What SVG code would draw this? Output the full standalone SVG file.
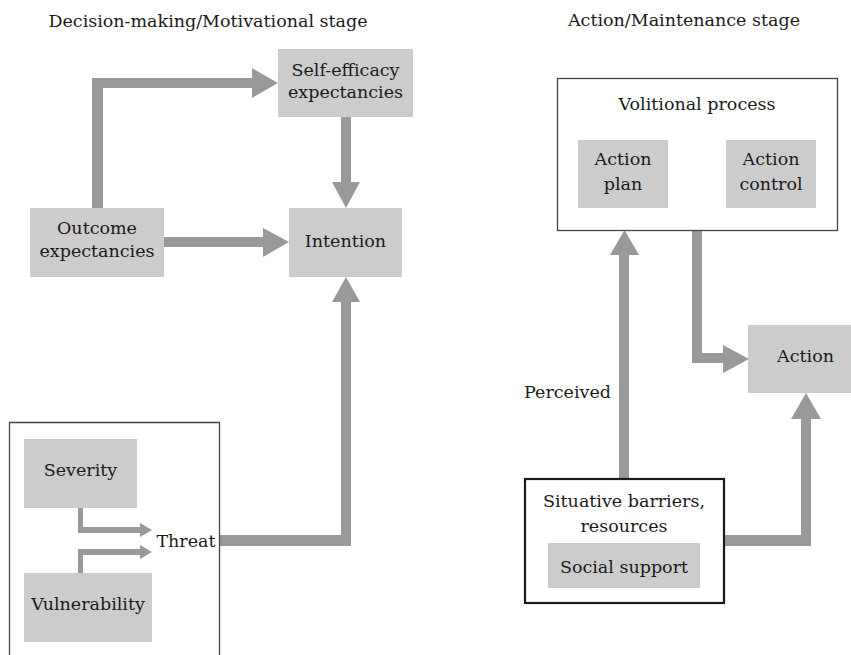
<svg xmlns="http://www.w3.org/2000/svg" width="851" height="655" viewBox="0 0 851 655">
<style>
text{font-family:"DejaVu Serif","Liberation Serif",serif;font-size:17.5px;fill:#1a1a1a;text-anchor:middle}
.box{fill:#cccccc}
.frame{fill:none;stroke:#444;stroke-width:1.3}
.frame2{fill:none;stroke:#1a1a1a;stroke-width:2.2}
.arr{fill:#999999}
</style>
<rect width="851" height="655" fill="#fff"/>
<text x="208" y="27">Decision-making/Motivational stage</text>
<text x="684" y="26">Action/Maintenance stage</text>

<g id="connectors">
  <polygon class="arr" points="92,208 92,78 252,78 252,68 278,83 252,98 252,88 103,88 103,208"/>
  <polygon class="arr" points="341,117 351,117 351,182 360,182 346,208 332,182 341,182"/>
  <polygon class="arr" points="164,237 263,237 263,228 289,242 263,257 263,247 164,247"/>
  <polygon class="arr" points="220,535 341,535 341,302 332,302 346,277 360,302 351,302 351,546 220,546"/>
  <polygon class="arr" points="78,508 83,508 83,527 140,527 140,523 152,530 140,537 140,533 78,533"/>
  <polygon class="arr" points="78,573 83,573 83,555 140,555 140,559 152,552 140,545 140,549 78,549"/>
  <polygon class="arr" points="619,478 619,255 610,255 624.5,230 639,255 629,255 629,478"/>
  <polygon class="arr" points="692,230 702,230 702,353 723,353 723,345 749,359 723,373 723,363 692,363"/>
  <polygon class="arr" points="724,535 801,535 801,419 791,419 806,393 821,419 811,419 811,546 724,546"/>
</g>

<g id="self-efficacy">
  <rect class="box" x="278" y="49" width="135" height="68"/>
  <text x="345.5" y="76">Self-efficacy</text>
  <text x="345.5" y="98">expectancies</text>
</g>
<g id="outcome">
  <rect class="box" x="30" y="208" width="134" height="69"/>
  <text x="97" y="234">Outcome</text>
  <text x="97" y="257">expectancies</text>
</g>
<g id="intention">
  <rect class="box" x="289" y="208" width="113" height="69"/>
  <text x="345.5" y="247">Intention</text>
</g>
<g id="threat-group">
  <path class="frame" d="M9.5,655 V422.5 H219.5 V655"/>
  <text x="186" y="547">Threat</text>
</g>
<g id="severity">
  <rect class="box" x="24" y="439" width="113" height="69"/>
  <text x="80.5" y="476">Severity</text>
</g>
<g id="vulnerability">
  <rect class="box" x="24" y="573" width="128" height="69"/>
  <text x="88" y="610">Vulnerability</text>
</g>
<g id="volitional">
  <rect class="frame" x="557.5" y="78.5" width="280" height="152"/>
  <text x="697" y="110">Volitional process</text>
</g>
<g id="action-plan">
  <rect class="box" x="578" y="140" width="90" height="68"/>
  <text x="623" y="165">Action</text>
  <text x="623" y="190">plan</text>
</g>
<g id="action-control">
  <rect class="box" x="726" y="140" width="90" height="68"/>
  <text x="771" y="165">Action</text>
  <text x="771" y="190">control</text>
</g>
<g id="action">
  <rect class="box" x="748" y="325" width="103" height="68"/>
  <text x="805.5" y="362">Action</text>
</g>
<g id="perceived">
  <text x="567.5" y="398">Perceived</text>
</g>
<g id="situative">
  <rect class="frame2" x="525" y="479" width="199" height="124"/>
  <text x="624" y="507">Situative barriers,</text>
  <text x="624" y="532">resources</text>
</g>
<g id="social-support">
  <rect class="box" x="548" y="543" width="152" height="45"/>
  <text x="624" y="573">Social support</text>
</g>
</svg>
